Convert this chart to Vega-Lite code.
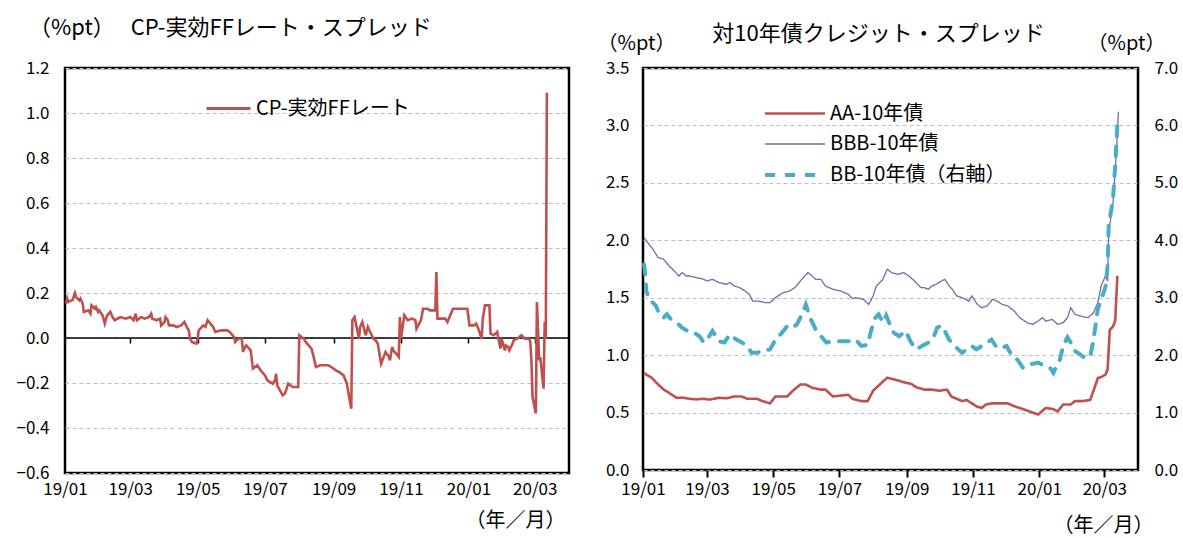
{
  "$schema": "https://vega.github.io/schema/vega-lite/v6.json",
  "background": "white",
  "padding": {"left": 14, "top": 15, "right": 5, "bottom": 5},
  "spacing": 24,
  "resolve": {"scale": {"color": "independent", "strokeDash": "independent", "strokeWidth": "independent", "x": "independent", "y": "independent"}, "legend": {"color": "independent", "strokeDash": "independent", "strokeWidth": "independent"}},
  "config": {
    "font": "Noto Sans CJK JP",
    "view": {"stroke": "black", "strokeWidth": 2.5},
    "axis": {"labelFont": "Noto Sans CJK JP", "labelFontSize": 17, "labelColor": "black", "labelFlush": false, "titleFont": "Noto Sans CJK JP", "titleFontSize": 20, "titleFontWeight": "normal", "titleColor": "black", "domain": false, "gridColor": "#bfbfbf", "gridDash": [4, 3], "gridWidth": 1},
    "legend": {"labelFont": "Noto Sans CJK JP", "labelFontSize": 20, "labelColor": "black", "labelLimit": 400, "symbolType": "M-2,0H2", "padding": 0},
    "title": {"font": "Noto Sans CJK JP", "fontSize": 22, "fontWeight": "normal", "color": "black"}
  },
  "datasets": {
    "cp": [
      {"d":"2019-01-02","s":"CP-実効FFレート","v":0.153},{"d":"2019-01-03","s":"CP-実効FFレート","v":0.175},{"d":"2019-01-04","s":"CP-実効FFレート","v":0.16},{"d":"2019-01-08","s":"CP-実効FFレート","v":0.17},{"d":"2019-01-10","s":"CP-実効FFレート","v":0.2},{"d":"2019-01-11","s":"CP-実効FFレート","v":0.182},{"d":"2019-01-14","s":"CP-実効FFレート","v":0.167},{"d":"2019-01-15","s":"CP-実効FFレート","v":0.175},{"d":"2019-01-17","s":"CP-実効FFレート","v":0.153},{"d":"2019-01-18","s":"CP-実効FFレート","v":0.116},{"d":"2019-01-22","s":"CP-実効FFレート","v":0.123},{"d":"2019-01-24","s":"CP-実効FFレート","v":0.108},{"d":"2019-01-25","s":"CP-実効FFレート","v":0.145},{"d":"2019-01-28","s":"CP-実効FFレート","v":0.13},{"d":"2019-01-29","s":"CP-実効FFレート","v":0.138},{"d":"2019-01-31","s":"CP-実効FFレート","v":0.116},{"d":"2019-02-01","s":"CP-実効FFレート","v":0.123},{"d":"2019-02-04","s":"CP-実効FFレート","v":0.1},{"d":"2019-02-06","s":"CP-実効FFレート","v":0.064},{"d":"2019-02-08","s":"CP-実効FFレート","v":0.1},{"d":"2019-02-11","s":"CP-実効FFレート","v":0.116},{"d":"2019-02-13","s":"CP-実効FFレート","v":0.093},{"d":"2019-02-15","s":"CP-実効FFレート","v":0.079},{"d":"2019-02-20","s":"CP-実効FFレート","v":0.093},{"d":"2019-02-25","s":"CP-実効FFレート","v":0.086},{"d":"2019-03-01","s":"CP-実効FFレート","v":0.093},{"d":"2019-03-04","s":"CP-実効FFレート","v":0.079},{"d":"2019-03-06","s":"CP-実効FFレート","v":0.108},{"d":"2019-03-07","s":"CP-実効FFレート","v":0.079},{"d":"2019-03-11","s":"CP-実効FFレート","v":0.093},{"d":"2019-03-14","s":"CP-実効FFレート","v":0.086},{"d":"2019-03-18","s":"CP-実効FFレート","v":0.093},{"d":"2019-03-20","s":"CP-実効FFレート","v":0.108},{"d":"2019-03-21","s":"CP-実効FFレート","v":0.086},{"d":"2019-03-25","s":"CP-実効FFレート","v":0.079},{"d":"2019-03-28","s":"CP-実効FFレート","v":0.086},{"d":"2019-03-29","s":"CP-実効FFレート","v":0.056},{"d":"2019-04-01","s":"CP-実効FFレート","v":0.071},{"d":"2019-04-02","s":"CP-実効FFレート","v":0.093},{"d":"2019-04-04","s":"CP-実効FFレート","v":0.079},{"d":"2019-04-05","s":"CP-実効FFレート","v":0.056},{"d":"2019-04-09","s":"CP-実効FFレート","v":0.056},{"d":"2019-04-12","s":"CP-実効FFレート","v":0.049},{"d":"2019-04-16","s":"CP-実効FFレート","v":0.056},{"d":"2019-04-19","s":"CP-実効FFレート","v":0.071},{"d":"2019-04-22","s":"CP-実効FFレート","v":0.041},{"d":"2019-04-23","s":"CP-実効FFレート","v":0.034},{"d":"2019-04-24","s":"CP-実効FFレート","v":-0.003},{"d":"2019-04-26","s":"CP-実効FFレート","v":-0.018},{"d":"2019-04-30","s":"CP-実効FFレート","v":-0.025},{"d":"2019-05-01","s":"CP-実効FFレート","v":-0.003},{"d":"2019-05-02","s":"CP-実効FFレート","v":0.034},{"d":"2019-05-06","s":"CP-実効FFレート","v":0.056},{"d":"2019-05-08","s":"CP-実効FFレート","v":0.049},{"d":"2019-05-10","s":"CP-実効FFレート","v":0.079},{"d":"2019-05-15","s":"CP-実効FFレート","v":0.049},{"d":"2019-05-17","s":"CP-実効FFレート","v":0.027},{"d":"2019-05-22","s":"CP-実効FFレート","v":0.034},{"d":"2019-05-28","s":"CP-実効FFレート","v":0.034},{"d":"2019-05-30","s":"CP-実効FFレート","v":0.027},{"d":"2019-06-03","s":"CP-実効FFレート","v":0.004},{"d":"2019-06-04","s":"CP-実効FFレート","v":-0.018},{"d":"2019-06-07","s":"CP-実効FFレート","v":-0.003},{"d":"2019-06-10","s":"CP-実効FFレート","v":-0.003},{"d":"2019-06-11","s":"CP-実効FFレート","v":-0.062},{"d":"2019-06-13","s":"CP-実効FFレート","v":-0.04},{"d":"2019-06-14","s":"CP-実効FFレート","v":-0.033},{"d":"2019-06-18","s":"CP-実効FFレート","v":-0.055},{"d":"2019-06-20","s":"CP-実効FFレート","v":-0.136},{"d":"2019-06-24","s":"CP-実効FFレート","v":-0.121},{"d":"2019-06-27","s":"CP-実効FFレート","v":-0.144},{"d":"2019-07-01","s":"CP-実効FFレート","v":-0.166},{"d":"2019-07-03","s":"CP-実効FFレート","v":-0.188},{"d":"2019-07-08","s":"CP-実効FFレート","v":-0.203},{"d":"2019-07-10","s":"CP-実効FFレート","v":-0.188},{"d":"2019-07-11","s":"CP-実効FFレート","v":-0.159},{"d":"2019-07-12","s":"CP-実効FFレート","v":-0.21},{"d":"2019-07-17","s":"CP-実効FFレート","v":-0.255},{"d":"2019-07-19","s":"CP-実効FFレート","v":-0.247},{"d":"2019-07-22","s":"CP-実効FFレート","v":-0.203},{"d":"2019-07-26","s":"CP-実効FFレート","v":-0.218},{"d":"2019-07-31","s":"CP-実効FFレート","v":-0.218},{"d":"2019-08-01","s":"CP-実効FFレート","v":0.012},{"d":"2019-08-05","s":"CP-実効FFレート","v":-0.003},{"d":"2019-08-08","s":"CP-実効FFレート","v":-0.025},{"d":"2019-08-12","s":"CP-実効FFレート","v":-0.047},{"d":"2019-08-14","s":"CP-実効FFレート","v":-0.084},{"d":"2019-08-16","s":"CP-実効FFレート","v":-0.129},{"d":"2019-08-20","s":"CP-実効FFレート","v":-0.121},{"d":"2019-08-27","s":"CP-実効FFレート","v":-0.121},{"d":"2019-08-30","s":"CP-実効FFレート","v":-0.129},{"d":"2019-09-03","s":"CP-実効FFレート","v":-0.144},{"d":"2019-09-06","s":"CP-実効FFレート","v":-0.151},{"d":"2019-09-10","s":"CP-実効FFレート","v":-0.166},{"d":"2019-09-13","s":"CP-実効FFレート","v":-0.203},{"d":"2019-09-17","s":"CP-実効FFレート","v":-0.314},{"d":"2019-09-18","s":"CP-実効FFレート","v":0.079},{"d":"2019-09-20","s":"CP-実効FFレート","v":0.093},{"d":"2019-09-24","s":"CP-実効FFレート","v":-0.003},{"d":"2019-09-25","s":"CP-実効FFレート","v":0.049},{"d":"2019-09-27","s":"CP-実効FFレート","v":0.071},{"d":"2019-09-30","s":"CP-実効FFレート","v":0.012},{"d":"2019-10-02","s":"CP-実効FFレート","v":0.049},{"d":"2019-10-04","s":"CP-実効FFレート","v":0.027},{"d":"2019-10-07","s":"CP-実効FFレート","v":-0.003},{"d":"2019-10-09","s":"CP-実効FFレート","v":-0.01},{"d":"2019-10-11","s":"CP-実効FFレート","v":-0.025},{"d":"2019-10-14","s":"CP-実効FFレート","v":-0.114},{"d":"2019-10-18","s":"CP-実効FFレート","v":-0.062},{"d":"2019-10-21","s":"CP-実効FFレート","v":-0.084},{"d":"2019-10-22","s":"CP-実効FFレート","v":-0.099},{"d":"2019-10-24","s":"CP-実効FFレート","v":-0.04},{"d":"2019-10-25","s":"CP-実効FFレート","v":-0.055},{"d":"2019-10-30","s":"CP-実効FFレート","v":-0.084},{"d":"2019-10-31","s":"CP-実効FFレート","v":0.093},{"d":"2019-11-01","s":"CP-実効FFレート","v":-0.003},{"d":"2019-11-04","s":"CP-実効FFレート","v":0.101},{"d":"2019-11-07","s":"CP-実効FFレート","v":0.079},{"d":"2019-11-11","s":"CP-実効FFレート","v":0.086},{"d":"2019-11-14","s":"CP-実効FFレート","v":0.079},{"d":"2019-11-15","s":"CP-実効FFレート","v":0.041},{"d":"2019-11-19","s":"CP-実効FFレート","v":0.079},{"d":"2019-11-21","s":"CP-実効FFレート","v":0.13},{"d":"2019-11-25","s":"CP-実効FFレート","v":0.13},{"d":"2019-11-27","s":"CP-実効FFレート","v":0.123},{"d":"2019-12-02","s":"CP-実効FFレート","v":0.123},{"d":"2019-12-03","s":"CP-実効FFレート","v":0.293},{"d":"2019-12-04","s":"CP-実効FFレート","v":0.086},{"d":"2019-12-09","s":"CP-実効FFレート","v":0.086},{"d":"2019-12-11","s":"CP-実効FFレート","v":0.086},{"d":"2019-12-13","s":"CP-実効FFレート","v":0.071},{"d":"2019-12-18","s":"CP-実効FFレート","v":0.13},{"d":"2019-12-23","s":"CP-実効FFレート","v":0.13},{"d":"2019-12-31","s":"CP-実効FFレート","v":0.13},{"d":"2020-01-02","s":"CP-実効FFレート","v":0.056},{"d":"2020-01-06","s":"CP-実効FFレート","v":0.056},{"d":"2020-01-08","s":"CP-実効FFレート","v":0.064},{"d":"2020-01-10","s":"CP-実効FFレート","v":0.041},{"d":"2020-01-13","s":"CP-実効FFレート","v":-0.003},{"d":"2020-01-14","s":"CP-実効FFレート","v":0.086},{"d":"2020-01-16","s":"CP-実効FFレート","v":0.145},{"d":"2020-01-20","s":"CP-実効FFレート","v":0.145},{"d":"2020-01-21","s":"CP-実効FFレート","v":0.019},{"d":"2020-01-24","s":"CP-実効FFレート","v":0.012},{"d":"2020-01-27","s":"CP-実効FFレート","v":0.027},{"d":"2020-01-30","s":"CP-実効FFレート","v":-0.047},{"d":"2020-01-31","s":"CP-実効FFレート","v":-0.003},{"d":"2020-02-03","s":"CP-実効FFレート","v":-0.055},{"d":"2020-02-04","s":"CP-実効FFレート","v":-0.033},{"d":"2020-02-06","s":"CP-実効FFレート","v":-0.04},{"d":"2020-02-07","s":"CP-実効FFレート","v":-0.055},{"d":"2020-02-10","s":"CP-実効FFレート","v":-0.025},{"d":"2020-02-11","s":"CP-実効FFレート","v":-0.01},{"d":"2020-02-14","s":"CP-実効FFレート","v":-0.003},{"d":"2020-02-18","s":"CP-実効FFレート","v":0.012},{"d":"2020-02-21","s":"CP-実効FFレート","v":-0.003},{"d":"2020-02-25","s":"CP-実効FFレート","v":-0.003},{"d":"2020-02-26","s":"CP-実効FFレート","v":-0.018},{"d":"2020-02-27","s":"CP-実効FFレート","v":-0.1},{"d":"2020-02-28","s":"CP-実効FFレート","v":-0.262},{"d":"2020-03-02","s":"CP-実効FFレート","v":-0.336},{"d":"2020-03-03","s":"CP-実効FFレート","v":0.16},{"d":"2020-03-05","s":"CP-実効FFレート","v":-0.1},{"d":"2020-03-06","s":"CP-実効FFレート","v":-0.085},{"d":"2020-03-09","s":"CP-実効FFレート","v":-0.225},{"d":"2020-03-10","s":"CP-実効FFレート","v":0.071},{"d":"2020-03-11","s":"CP-実効FFレート","v":-0.003},{"d":"2020-03-12","s":"CP-実効FFレート","v":1.09}
    ],
    "cr": [
      {"d":"2019-01-02","s":"AA-10年債","v":0.846},{"d":"2019-01-04","s":"AA-10年債","v":0.83},{"d":"2019-01-09","s":"AA-10年債","v":0.803},{"d":"2019-01-15","s":"AA-10年債","v":0.744},{"d":"2019-01-20","s":"AA-10年債","v":0.701},{"d":"2019-01-25","s":"AA-10年債","v":0.672},{"d":"2019-02-01","s":"AA-10年債","v":0.628},{"d":"2019-02-06","s":"AA-10年債","v":0.63},{"d":"2019-02-13","s":"AA-10年債","v":0.62},{"d":"2019-02-19","s":"AA-10年債","v":0.615},{"d":"2019-02-26","s":"AA-10年債","v":0.62},{"d":"2019-03-03","s":"AA-10年債","v":0.613},{"d":"2019-03-12","s":"AA-10年債","v":0.628},{"d":"2019-03-19","s":"AA-10年債","v":0.625},{"d":"2019-03-26","s":"AA-10年債","v":0.64},{"d":"2019-04-02","s":"AA-10年債","v":0.64},{"d":"2019-04-07","s":"AA-10年債","v":0.62},{"d":"2019-04-16","s":"AA-10年債","v":0.62},{"d":"2019-04-21","s":"AA-10年債","v":0.6},{"d":"2019-04-28","s":"AA-10年債","v":0.58},{"d":"2019-05-03","s":"AA-10年債","v":0.64},{"d":"2019-05-14","s":"AA-10年債","v":0.64},{"d":"2019-05-19","s":"AA-10年債","v":0.69},{"d":"2019-05-26","s":"AA-10年債","v":0.744},{"d":"2019-05-31","s":"AA-10年債","v":0.744},{"d":"2019-06-06","s":"AA-10年債","v":0.715},{"d":"2019-06-14","s":"AA-10年債","v":0.7},{"d":"2019-06-18","s":"AA-10年債","v":0.7},{"d":"2019-06-25","s":"AA-10年債","v":0.64},{"d":"2019-07-09","s":"AA-10年債","v":0.655},{"d":"2019-07-13","s":"AA-10年債","v":0.62},{"d":"2019-07-21","s":"AA-10年債","v":0.6},{"d":"2019-07-27","s":"AA-10年債","v":0.6},{"d":"2019-08-01","s":"AA-10年債","v":0.69},{"d":"2019-08-10","s":"AA-10年債","v":0.77},{"d":"2019-08-14","s":"AA-10年債","v":0.803},{"d":"2019-08-20","s":"AA-10年債","v":0.79},{"d":"2019-08-31","s":"AA-10年債","v":0.76},{"d":"2019-09-05","s":"AA-10年債","v":0.75},{"d":"2019-09-10","s":"AA-10年債","v":0.72},{"d":"2019-09-17","s":"AA-10年債","v":0.7},{"d":"2019-09-24","s":"AA-10年債","v":0.7},{"d":"2019-10-01","s":"AA-10年債","v":0.69},{"d":"2019-10-08","s":"AA-10年債","v":0.7},{"d":"2019-10-12","s":"AA-10年債","v":0.64},{"d":"2019-10-17","s":"AA-10年債","v":0.62},{"d":"2019-10-22","s":"AA-10年債","v":0.6},{"d":"2019-10-26","s":"AA-10年債","v":0.61},{"d":"2019-10-31","s":"AA-10年債","v":0.58},{"d":"2019-11-05","s":"AA-10年債","v":0.55},{"d":"2019-11-09","s":"AA-10年債","v":0.54},{"d":"2019-11-13","s":"AA-10年債","v":0.57},{"d":"2019-11-18","s":"AA-10年債","v":0.58},{"d":"2019-11-25","s":"AA-10年債","v":0.58},{"d":"2019-12-03","s":"AA-10年債","v":0.58},{"d":"2019-12-09","s":"AA-10年債","v":0.555},{"d":"2019-12-14","s":"AA-10年債","v":0.54},{"d":"2019-12-20","s":"AA-10年債","v":0.52},{"d":"2019-12-26","s":"AA-10年債","v":0.5},{"d":"2019-12-31","s":"AA-10年債","v":0.483},{"d":"2020-01-07","s":"AA-10年債","v":0.54},{"d":"2020-01-14","s":"AA-10年債","v":0.53},{"d":"2020-01-18","s":"AA-10年債","v":0.51},{"d":"2020-01-23","s":"AA-10年債","v":0.57},{"d":"2020-01-30","s":"AA-10年債","v":0.57},{"d":"2020-02-03","s":"AA-10年債","v":0.6},{"d":"2020-02-10","s":"AA-10年債","v":0.6},{"d":"2020-02-17","s":"AA-10年債","v":0.61},{"d":"2020-02-20","s":"AA-10年債","v":0.69},{"d":"2020-02-24","s":"AA-10年債","v":0.8},{"d":"2020-02-27","s":"AA-10年債","v":0.81},{"d":"2020-03-02","s":"AA-10年債","v":0.83},{"d":"2020-03-04","s":"AA-10年債","v":0.875},{"d":"2020-03-06","s":"AA-10年債","v":1.22},{"d":"2020-03-09","s":"AA-10年債","v":1.25},{"d":"2020-03-11","s":"AA-10年債","v":1.3},{"d":"2020-03-13","s":"AA-10年債","v":1.69},
      {"d":"2019-01-02","s":"BBB-10年債","v":2.024},{"d":"2019-01-04","s":"BBB-10年債","v":1.995},{"d":"2019-01-09","s":"BBB-10年債","v":1.937},{"d":"2019-01-15","s":"BBB-10年債","v":1.85},{"d":"2019-01-20","s":"BBB-10年債","v":1.835},{"d":"2019-01-25","s":"BBB-10年債","v":1.777},{"d":"2019-01-30","s":"BBB-10年債","v":1.733},{"d":"2019-02-03","s":"BBB-10年債","v":1.689},{"d":"2019-02-06","s":"BBB-10年債","v":1.719},{"d":"2019-02-10","s":"BBB-10年債","v":1.689},{"d":"2019-02-13","s":"BBB-10年債","v":1.689},{"d":"2019-02-19","s":"BBB-10年債","v":1.675},{"d":"2019-02-26","s":"BBB-10年債","v":1.66},{"d":"2019-03-01","s":"BBB-10年債","v":1.646},{"d":"2019-03-06","s":"BBB-10年債","v":1.66},{"d":"2019-03-12","s":"BBB-10年債","v":1.632},{"d":"2019-03-19","s":"BBB-10年債","v":1.617},{"d":"2019-03-22","s":"BBB-10年債","v":1.632},{"d":"2019-03-26","s":"BBB-10年債","v":1.602},{"d":"2019-03-31","s":"BBB-10年債","v":1.588},{"d":"2019-04-05","s":"BBB-10年債","v":1.559},{"d":"2019-04-09","s":"BBB-10年債","v":1.53},{"d":"2019-04-12","s":"BBB-10年債","v":1.471},{"d":"2019-04-18","s":"BBB-10年債","v":1.471},{"d":"2019-04-23","s":"BBB-10年債","v":1.457},{"d":"2019-04-28","s":"BBB-10年債","v":1.457},{"d":"2019-05-03","s":"BBB-10年債","v":1.501},{"d":"2019-05-10","s":"BBB-10年債","v":1.544},{"d":"2019-05-16","s":"BBB-10年債","v":1.559},{"d":"2019-05-21","s":"BBB-10年債","v":1.588},{"d":"2019-05-26","s":"BBB-10年債","v":1.646},{"d":"2019-05-30","s":"BBB-10年債","v":1.689},{"d":"2019-06-02","s":"BBB-10年債","v":1.719},{"d":"2019-06-06","s":"BBB-10年債","v":1.689},{"d":"2019-06-09","s":"BBB-10年債","v":1.66},{"d":"2019-06-14","s":"BBB-10年債","v":1.66},{"d":"2019-06-18","s":"BBB-10年債","v":1.602},{"d":"2019-06-25","s":"BBB-10年債","v":1.573},{"d":"2019-07-02","s":"BBB-10年債","v":1.559},{"d":"2019-07-09","s":"BBB-10年債","v":1.53},{"d":"2019-07-13","s":"BBB-10年債","v":1.492},{"d":"2019-07-16","s":"BBB-10年債","v":1.501},{"d":"2019-07-23","s":"BBB-10年債","v":1.486},{"d":"2019-07-28","s":"BBB-10年債","v":1.442},{"d":"2019-08-01","s":"BBB-10年債","v":1.515},{"d":"2019-08-04","s":"BBB-10年債","v":1.602},{"d":"2019-08-10","s":"BBB-10年債","v":1.66},{"d":"2019-08-14","s":"BBB-10年債","v":1.748},{"d":"2019-08-18","s":"BBB-10年債","v":1.719},{"d":"2019-08-24","s":"BBB-10年債","v":1.704},{"d":"2019-08-29","s":"BBB-10年債","v":1.719},{"d":"2019-09-03","s":"BBB-10年債","v":1.689},{"d":"2019-09-08","s":"BBB-10年債","v":1.646},{"d":"2019-09-14","s":"BBB-10年債","v":1.588},{"d":"2019-09-17","s":"BBB-10年債","v":1.588},{"d":"2019-09-21","s":"BBB-10年債","v":1.573},{"d":"2019-09-24","s":"BBB-10年債","v":1.602},{"d":"2019-09-28","s":"BBB-10年債","v":1.617},{"d":"2019-10-03","s":"BBB-10年債","v":1.646},{"d":"2019-10-06","s":"BBB-10年債","v":1.66},{"d":"2019-10-10","s":"BBB-10年債","v":1.602},{"d":"2019-10-13","s":"BBB-10年債","v":1.573},{"d":"2019-10-17","s":"BBB-10年債","v":1.515},{"d":"2019-10-22","s":"BBB-10年債","v":1.501},{"d":"2019-10-28","s":"BBB-10年債","v":1.471},{"d":"2019-10-31","s":"BBB-10年債","v":1.515},{"d":"2019-11-05","s":"BBB-10年債","v":1.442},{"d":"2019-11-09","s":"BBB-10年債","v":1.413},{"d":"2019-11-14","s":"BBB-10年債","v":1.428},{"d":"2019-11-19","s":"BBB-10年債","v":1.486},{"d":"2019-11-23","s":"BBB-10年債","v":1.471},{"d":"2019-11-28","s":"BBB-10年債","v":1.442},{"d":"2019-12-03","s":"BBB-10年債","v":1.428},{"d":"2019-12-09","s":"BBB-10年債","v":1.384},{"d":"2019-12-14","s":"BBB-10年債","v":1.326},{"d":"2019-12-21","s":"BBB-10年債","v":1.282},{"d":"2019-12-26","s":"BBB-10年債","v":1.268},{"d":"2019-12-31","s":"BBB-10年債","v":1.297},{"d":"2020-01-04","s":"BBB-10年債","v":1.326},{"d":"2020-01-07","s":"BBB-10年債","v":1.297},{"d":"2020-01-13","s":"BBB-10年債","v":1.311},{"d":"2020-01-18","s":"BBB-10年債","v":1.268},{"d":"2020-01-23","s":"BBB-10年債","v":1.282},{"d":"2020-01-27","s":"BBB-10年債","v":1.326},{"d":"2020-01-30","s":"BBB-10年債","v":1.413},{"d":"2020-02-03","s":"BBB-10年債","v":1.355},{"d":"2020-02-08","s":"BBB-10年債","v":1.34},{"d":"2020-02-15","s":"BBB-10年債","v":1.326},{"d":"2020-02-20","s":"BBB-10年債","v":1.369},{"d":"2020-02-24","s":"BBB-10年債","v":1.457},{"d":"2020-02-27","s":"BBB-10年債","v":1.602},{"d":"2020-03-02","s":"BBB-10年債","v":1.689},{"d":"2020-03-04","s":"BBB-10年債","v":1.646},{"d":"2020-03-05","s":"BBB-10年債","v":2.068},{"d":"2020-03-09","s":"BBB-10年債","v":2.33},{"d":"2020-03-12","s":"BBB-10年債","v":2.75},{"d":"2020-03-14","s":"BBB-10年債","v":3.12}
    ],
    "bb": [
      {"d":"2019-01-02","s":"BB-10年債（右軸）","v":3.58},{"d":"2019-01-03","s":"BB-10年債（右軸）","v":3.41},{"d":"2019-01-04","s":"BB-10年債（右軸）","v":3.12},{"d":"2019-01-07","s":"BB-10年債（右軸）","v":2.97},{"d":"2019-01-13","s":"BB-10年債（右軸）","v":2.86},{"d":"2019-01-16","s":"BB-10年債（右軸）","v":2.71},{"d":"2019-01-20","s":"BB-10年債（右軸）","v":2.65},{"d":"2019-01-23","s":"BB-10年債（右軸）","v":2.71},{"d":"2019-01-27","s":"BB-10年債（右軸）","v":2.62},{"d":"2019-02-01","s":"BB-10年債（右軸）","v":2.57},{"d":"2019-02-06","s":"BB-10年債（右軸）","v":2.48},{"d":"2019-02-11","s":"BB-10年債（右軸）","v":2.42},{"d":"2019-02-17","s":"BB-10年債（右軸）","v":2.39},{"d":"2019-02-22","s":"BB-10年債（右軸）","v":2.33},{"d":"2019-02-26","s":"BB-10年債（右軸）","v":2.22},{"d":"2019-03-03","s":"BB-10年債（右軸）","v":2.33},{"d":"2019-03-06","s":"BB-10年債（右軸）","v":2.42},{"d":"2019-03-12","s":"BB-10年債（右軸）","v":2.24},{"d":"2019-03-17","s":"BB-10年債（右軸）","v":2.22},{"d":"2019-03-22","s":"BB-10年債（右軸）","v":2.36},{"d":"2019-03-28","s":"BB-10年債（右軸）","v":2.27},{"d":"2019-04-02","s":"BB-10年債（右軸）","v":2.22},{"d":"2019-04-07","s":"BB-10年債（右軸）","v":2.16},{"d":"2019-04-11","s":"BB-10年債（右軸）","v":2.04},{"d":"2019-04-16","s":"BB-10年債（右軸）","v":2.04},{"d":"2019-04-21","s":"BB-10年債（右軸）","v":2.07},{"d":"2019-04-28","s":"BB-10年債（右軸）","v":2.1},{"d":"2019-05-03","s":"BB-10年債（右軸）","v":2.27},{"d":"2019-05-09","s":"BB-10年債（右軸）","v":2.39},{"d":"2019-05-14","s":"BB-10年債（右軸）","v":2.51},{"d":"2019-05-19","s":"BB-10年債（右軸）","v":2.48},{"d":"2019-05-23","s":"BB-10年債（右軸）","v":2.54},{"d":"2019-05-28","s":"BB-10年債（右軸）","v":2.74},{"d":"2019-05-31","s":"BB-10年債（右軸）","v":2.88},{"d":"2019-06-04","s":"BB-10年債（右軸）","v":2.65},{"d":"2019-06-09","s":"BB-10年債（右軸）","v":2.45},{"d":"2019-06-14","s":"BB-10年債（右軸）","v":2.33},{"d":"2019-06-19","s":"BB-10年債（右軸）","v":2.22},{"d":"2019-06-25","s":"BB-10年債（右軸）","v":2.24},{"d":"2019-07-02","s":"BB-10年債（右軸）","v":2.24},{"d":"2019-07-09","s":"BB-10年債（右軸）","v":2.24},{"d":"2019-07-16","s":"BB-10年債（右軸）","v":2.27},{"d":"2019-07-21","s":"BB-10年債（右軸）","v":2.16},{"d":"2019-07-27","s":"BB-10年債（右軸）","v":2.18},{"d":"2019-07-30","s":"BB-10年債（右軸）","v":2.42},{"d":"2019-08-03","s":"BB-10年債（右軸）","v":2.65},{"d":"2019-08-06","s":"BB-10年債（右軸）","v":2.71},{"d":"2019-08-10","s":"BB-10年債（右軸）","v":2.57},{"d":"2019-08-13","s":"BB-10年債（右軸）","v":2.69},{"d":"2019-08-17","s":"BB-10年債（右軸）","v":2.51},{"d":"2019-08-20","s":"BB-10年債（右軸）","v":2.39},{"d":"2019-08-25","s":"BB-10年債（右軸）","v":2.33},{"d":"2019-08-31","s":"BB-10年債（右軸）","v":2.42},{"d":"2019-09-05","s":"BB-10年債（右軸）","v":2.22},{"d":"2019-09-10","s":"BB-10年債（右軸）","v":2.1},{"d":"2019-09-15","s":"BB-10年債（右軸）","v":2.16},{"d":"2019-09-21","s":"BB-10年債（右軸）","v":2.22},{"d":"2019-09-26","s":"BB-10年債（右軸）","v":2.33},{"d":"2019-09-29","s":"BB-10年債（右軸）","v":2.48},{"d":"2019-10-03","s":"BB-10年債（右軸）","v":2.51},{"d":"2019-10-06","s":"BB-10年債（右軸）","v":2.42},{"d":"2019-10-10","s":"BB-10年債（右軸）","v":2.27},{"d":"2019-10-15","s":"BB-10年債（右軸）","v":2.16},{"d":"2019-10-22","s":"BB-10年債（右軸）","v":2.04},{"d":"2019-10-26","s":"BB-10年債（右軸）","v":2.1},{"d":"2019-10-31","s":"BB-10年債（右軸）","v":2.16},{"d":"2019-11-04","s":"BB-10年債（右軸）","v":2.1},{"d":"2019-11-09","s":"BB-10年債（右軸）","v":2.16},{"d":"2019-11-14","s":"BB-10年債（右軸）","v":2.22},{"d":"2019-11-18","s":"BB-10年債（右軸）","v":2.27},{"d":"2019-11-23","s":"BB-10年債（右軸）","v":2.13},{"d":"2019-11-28","s":"BB-10年債（右軸）","v":2.13},{"d":"2019-12-02","s":"BB-10年債（右軸）","v":2.16},{"d":"2019-12-07","s":"BB-10年債（右軸）","v":1.98},{"d":"2019-12-12","s":"BB-10年債（右軸）","v":1.92},{"d":"2019-12-17","s":"BB-10年債（右軸）","v":1.78},{"d":"2019-12-24","s":"BB-10年債（右軸）","v":1.84},{"d":"2019-12-31","s":"BB-10年債（右軸）","v":1.87},{"d":"2020-01-06","s":"BB-10年債（右軸）","v":1.81},{"d":"2020-01-11","s":"BB-10年債（右軸）","v":1.78},{"d":"2020-01-14","s":"BB-10年債（右軸）","v":1.69},{"d":"2020-01-20","s":"BB-10年債（右軸）","v":1.92},{"d":"2020-01-23","s":"BB-10年債（右軸）","v":2.16},{"d":"2020-01-27","s":"BB-10年債（右軸）","v":2.31},{"d":"2020-01-30","s":"BB-10年債（右軸）","v":2.22},{"d":"2020-02-03","s":"BB-10年債（右軸）","v":2.07},{"d":"2020-02-08","s":"BB-10年債（右軸）","v":2.01},{"d":"2020-02-12","s":"BB-10年債（右軸）","v":1.95},{"d":"2020-02-17","s":"BB-10年債（右軸）","v":1.98},{"d":"2020-02-20","s":"BB-10年債（右軸）","v":2.27},{"d":"2020-02-24","s":"BB-10年債（右軸）","v":2.8},{"d":"2020-02-27","s":"BB-10年債（右軸）","v":2.97},{"d":"2020-03-02","s":"BB-10年債（右軸）","v":3.18},{"d":"2020-03-04","s":"BB-10年債（右軸）","v":3.55},{"d":"2020-03-05","s":"BB-10年債（右軸）","v":4.25},{"d":"2020-03-09","s":"BB-10年債（右軸）","v":4.72},{"d":"2020-03-11","s":"BB-10年債（右軸）","v":5.3},{"d":"2020-03-13","s":"BB-10年債（右軸）","v":6.0}
    ]
  },
  "hconcat": [
    {
      "width": 504,
      "height": 405,
      "title": {"text": "（%pt）　 CP-実効FFレート・スプレッド", "anchor": "start", "frame": "group", "dx": -36, "offset": 19},
      "layer": [
        {
          "data": {"values": [{"d1": "2019-01-01", "d2": "2020-04-01", "v": 0}]},
          "mark": {"type": "rule", "color": "black", "strokeWidth": 1.3},
          "encoding": {
            "x": {"field": "d1", "type": "temporal", "scale": {"type": "utc", "domain": [{"year": 2019, "month": 1, "date": 1, "utc": true}, {"year": 2020, "month": 4, "date": 1, "utc": true}]},
              "axis": {"orient": "bottom", "offset": -135, "labels": false, "grid": false, "ticks": true, "tickSize": 5, "tickColor": "black", "tickWidth": 1.5, "domain": false, "title": null,
                "values": [{"year": 2019, "month": 3, "date": 1, "utc": true}, {"year": 2019, "month": 5, "date": 1, "utc": true}, {"year": 2019, "month": 7, "date": 1, "utc": true}, {"year": 2019, "month": 9, "date": 1, "utc": true}, {"year": 2019, "month": 11, "date": 1, "utc": true}, {"year": 2020, "month": 1, "date": 1, "utc": true}, {"year": 2020, "month": 3, "date": 1, "utc": true}]}},
            "x2": {"field": "d2"},
            "y": {"field": "v", "type": "quantitative"}
          }
        },
        {
          "data": {"name": "cp"},
          "mark": {"type": "line", "strokeWidth": 2.6},
          "encoding": {
            "x": {"field": "d", "type": "temporal",
              "axis": {"orient": "bottom", "format": "%y/%m", "ticks": false, "labelPadding": 8, "grid": false,
                "values": [{"year": 2019, "month": 1, "date": 1, "utc": true}, {"year": 2019, "month": 3, "date": 1, "utc": true}, {"year": 2019, "month": 5, "date": 1, "utc": true}, {"year": 2019, "month": 7, "date": 1, "utc": true}, {"year": 2019, "month": 9, "date": 1, "utc": true}, {"year": 2019, "month": 11, "date": 1, "utc": true}, {"year": 2020, "month": 1, "date": 1, "utc": true}, {"year": 2020, "month": 3, "date": 1, "utc": true}],
                "title": "（年／月）", "titleAlign": "right", "titleAnchor": "end", "titleX": 500, "titleY": 47, "titleBaseline": "middle"}},
            "y": {"field": "v", "type": "quantitative", "scale": {"domain": [-0.6, 1.2]},
              "axis": {"values": [-0.6, -0.4, -0.2, 0, 0.2, 0.4, 0.6, 0.8, 1.0, 1.2], "format": ".1f", "grid": true, "ticks": false, "labelPadding": 16, "title": null}},
            "color": {"field": "s", "type": "nominal", "scale": {"domain": ["CP-実効FFレート"], "range": ["#C0504D"]},
              "legend": {"title": null, "orient": "none", "legendX": 151, "legendY": 28, "symbolSize": 484, "labelOffset": 15, "symbolStrokeWidth": 3}}
          }
        }
      ],
      "resolve": {"axis": {"x": "independent"}}
    },
    {
      "width": 495,
      "height": 402,
      "title": {"text": "対10年債クレジット・スプレッド", "anchor": "middle", "frame": "group", "dx": -12, "offset": -13},
      "layer": [
        {
          "data": {"name": "cr"},
          "mark": {"type": "line"},
          "encoding": {
            "x": {"field": "d", "type": "temporal", "scale": {"type": "utc", "domain": [{"year": 2019, "month": 1, "date": 1, "utc": true}, {"year": 2020, "month": 4, "date": 1, "utc": true}]},
              "axis": {"orient": "bottom", "format": "%y/%m", "ticks": true, "tickSize": 7, "tickWidth": 2, "tickColor": "black", "labelPadding": 4, "grid": false,
                "values": [{"year": 2019, "month": 1, "date": 1, "utc": true}, {"year": 2019, "month": 3, "date": 1, "utc": true}, {"year": 2019, "month": 5, "date": 1, "utc": true}, {"year": 2019, "month": 7, "date": 1, "utc": true}, {"year": 2019, "month": 9, "date": 1, "utc": true}, {"year": 2019, "month": 11, "date": 1, "utc": true}, {"year": 2020, "month": 1, "date": 1, "utc": true}, {"year": 2020, "month": 3, "date": 1, "utc": true}],
                "title": "（年／月）", "titleAlign": "right", "titleAnchor": "end", "titleX": 510, "titleY": 55, "titleBaseline": "middle"}},
            "y": {"field": "v", "type": "quantitative", "scale": {"domain": [0, 3.5]},
              "axis": {"orient": "left", "values": [0, 0.5, 1, 1.5, 2, 2.5, 3, 3.5], "format": ".1f", "grid": true, "ticks": false, "labelPadding": 14,
                "title": "（%pt）", "titleAngle": 0, "titleAlign": "left", "titleBaseline": "middle", "titleX": -46, "titleY": -25}},
            "color": {"field": "s", "type": "nominal", "scale": {"domain": ["AA-10年債", "BBB-10年債", "BB-10年債（右軸）"], "range": ["#C0504D", "#8064A2", "#4BACC6"]},
              "legend": {"title": null, "orient": "none", "legendX": 135, "legendY": 29, "symbolSize": 900, "labelOffset": 18, "rowPadding": 4}},
            "strokeDash": {"field": "s", "type": "nominal", "scale": {"domain": ["AA-10年債", "BBB-10年債", "BB-10年債（右軸）"], "range": [[1, 0], [1, 0], [10, 10]]}, "legend": {"title": null}},
            "strokeWidth": {"field": "s", "type": "nominal", "scale": {"type": "ordinal", "domain": ["AA-10年債", "BBB-10年債", "BB-10年債（右軸）"], "range": [2.6, 1.3, 4]}, "legend": {"title": null}}
          }
        },
        {
          "data": {"name": "bb"},
          "mark": {"type": "line", "strokeCap": "round"},
          "encoding": {
            "x": {"field": "d", "type": "temporal"},
            "y": {"field": "v", "type": "quantitative", "scale": {"domain": [0, 7]},
              "axis": {"orient": "right", "values": [0, 1, 2, 3, 4, 5, 6, 7], "format": ".1f", "grid": false, "ticks": false, "labelPadding": 16,
                "title": "（%pt）", "titleAngle": 0, "titleAlign": "left", "titleBaseline": "middle", "titleX": -51, "titleY": -25}},
            "color": {"field": "s", "type": "nominal", "scale": {"domain": ["AA-10年債", "BBB-10年債", "BB-10年債（右軸）"], "range": ["#C0504D", "#8064A2", "#4BACC6"]}},
            "strokeDash": {"field": "s", "type": "nominal", "scale": {"domain": ["AA-10年債", "BBB-10年債", "BB-10年債（右軸）"], "range": [[1, 0], [1, 0], [10, 10]]}},
            "strokeWidth": {"field": "s", "type": "nominal", "scale": {"type": "ordinal", "domain": ["AA-10年債", "BBB-10年債", "BB-10年債（右軸）"], "range": [2.6, 1.3, 4]}}
          }
        }
      ],
      "resolve": {"scale": {"y": "independent"}}
    }
  ]
}
